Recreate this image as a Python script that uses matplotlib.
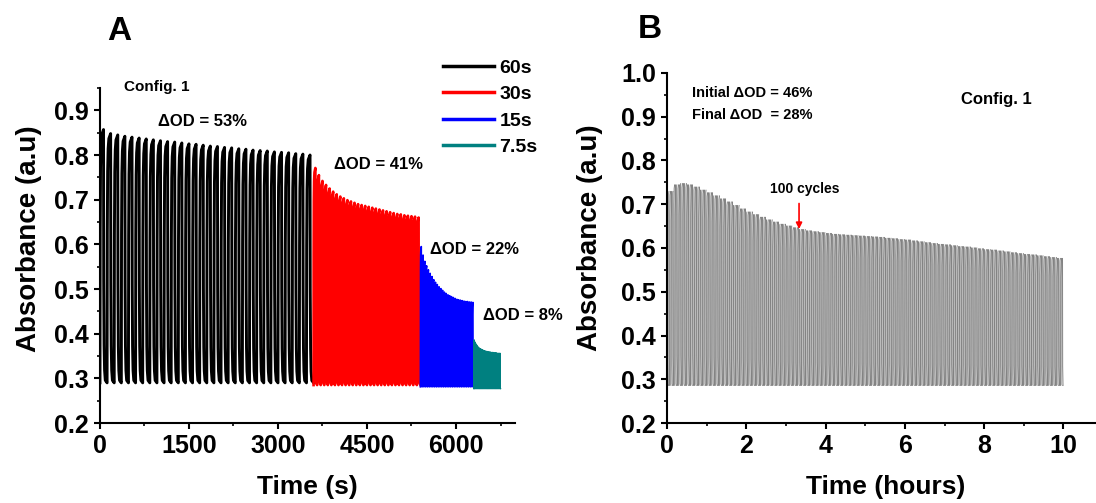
import numpy as np
import matplotlib.pyplot as plt
from matplotlib.ticker import MultipleLocator

plt.rcParams['font.family'] = ['Liberation Sans', 'DejaVu Sans']
plt.rcParams['font.weight'] = 'bold'

# ---- panel A: cycling at decreasing step times (peak absorbance per cycle) ----
step_times = [60, 30, 15, 7.5]          # s coloring, then s bleaching
step_labels = ['60s', '30s', '15s', '7.5s']
step_colors = ['black', 'red', 'blue', '#008080']
step_starts = [0, 3600, 5400, 6300]
bleached_a = [0.290, 0.285, 0.281, 0.277]

peaks_60 = [0.857, 0.848, 0.845, 0.842, 0.840, 0.838, 0.836, 0.834, 0.832, 0.830,
            0.829, 0.827, 0.825, 0.824, 0.822, 0.820, 0.819, 0.817, 0.816, 0.814,
            0.813, 0.811, 0.810, 0.809, 0.807, 0.806, 0.805, 0.803, 0.802, 0.800]
peaks_30 = [0.771, 0.755, 0.742, 0.733, 0.725, 0.718, 0.712, 0.707, 0.703, 0.699,
            0.696, 0.693, 0.690, 0.688, 0.686, 0.684, 0.682, 0.680, 0.678, 0.676,
            0.674, 0.672, 0.670, 0.668, 0.667, 0.665, 0.664, 0.663, 0.662, 0.660]
peaks_15 = [0.595, 0.576, 0.562, 0.552, 0.543, 0.535, 0.528, 0.521, 0.515, 0.510,
            0.505, 0.501, 0.497, 0.493, 0.490, 0.487, 0.485, 0.483, 0.481, 0.479,
            0.477, 0.476, 0.475, 0.474, 0.473, 0.472, 0.472, 0.471, 0.471, 0.470]
peaks_7p5 = [0.386, 0.381, 0.377, 0.374, 0.371, 0.369, 0.367, 0.366, 0.365, 0.364,
             0.363, 0.362, 0.361, 0.361, 0.360, 0.360, 0.359, 0.359, 0.359, 0.358,
             0.358, 0.358, 0.357, 0.357, 0.357, 0.357, 0.356, 0.356, 0.356, 0.356]
step_peaks = [peaks_60, peaks_30, peaks_15, peaks_7p5]
delta_od_a = ['53%', '41%', '22%', '8%']

# shape of one colour/bleach cycle: fraction of period -> fraction of peak height
cycle_phase = [0.0, 0.03, 0.08, 0.15, 0.25, 0.50, 0.53, 0.58, 0.65, 0.75, 1.0]
cycle_level = [0.0, 0.60, 0.85, 0.94, 0.98, 1.00, 0.40, 0.15, 0.05, 0.01, 0.0]

# ---- panel B: 10 h run at 60 s steps, one peak value per 5 cycles (10 min) ----
peaks_long = [0.730, 0.745, 0.748, 0.745, 0.740, 0.733, 0.727, 0.720, 0.713, 0.706,
              0.698, 0.690, 0.683, 0.677, 0.671, 0.665, 0.660, 0.655, 0.651, 0.647,
              0.643, 0.640, 0.638, 0.636, 0.634, 0.632, 0.631, 0.630, 0.629, 0.628,
              0.627, 0.626, 0.625, 0.623, 0.622, 0.620, 0.619, 0.617, 0.615, 0.613,
              0.611, 0.609, 0.608, 0.606, 0.604, 0.603, 0.601, 0.599, 0.597, 0.596,
              0.594, 0.592, 0.590, 0.588, 0.586, 0.585, 0.583, 0.581, 0.579, 0.577]
cycles_per_peak = 5
step_long = 60 / 3600.0   # hours
bleached_b = 0.285


def build_trace(t0, step, peaks, base):
    period = 2 * step
    t, y = [], []
    for i, p in enumerate(peaks):
        start = t0 + i * period
        for ph, lv in zip(cycle_phase, cycle_level):
            t.append(start + ph * period)
            y.append(base + lv * (p - base))
    return np.array(t), np.array(y)


def style_axes(ax):
    for side in ['top', 'right']:
        ax.spines[side].set_visible(False)
    for side in ['left', 'bottom']:
        ax.spines[side].set_linewidth(1.5)
    ax.tick_params(which='major', direction='out', length=4, width=1.5,
                   labelsize=18, pad=4)
    ax.tick_params(which='minor', direction='out', length=2.5, width=1.2)
    for lab in ax.get_xticklabels() + ax.get_yticklabels():
        lab.set_fontweight('bold')


fig = plt.figure(figsize=(10.96, 5.03), dpi=100)

# ---------------- A ----------------
ax_a = fig.add_axes([0.0912, 0.159, 0.379, 0.666])
line_widths = [2.1, 1.9, 1.2, 1.0]
for start, step, peaks, base, col, lab, lw in zip(step_starts, step_times, step_peaks,
                                                  bleached_a, step_colors, step_labels,
                                                  line_widths):
    t, y = build_trace(start, step, peaks, base)
    ax_a.plot(t, y, color=col, lw=lw, label=lab, solid_joinstyle='round')

ax_a.set_xlim(0, 7000)
ax_a.set_ylim(0.2, 0.95)
ax_a.xaxis.set_major_locator(MultipleLocator(1500))
ax_a.xaxis.set_minor_locator(MultipleLocator(750))
ax_a.yaxis.set_major_locator(MultipleLocator(0.1))
ax_a.yaxis.set_minor_locator(MultipleLocator(0.05))
ax_a.set_yticks(np.arange(0.2, 0.91, 0.1))
style_axes(ax_a)
ax_a.set_xlabel('Time (s)', fontsize=19, fontweight='bold')
ax_a.set_ylabel('Absorbance (a.u)', fontsize=20, fontweight='bold')
ax_a.xaxis.set_label_coords(0.5, -0.155)
ax_a.yaxis.set_label_coords(-0.14, 0.55)

leg = ax_a.legend(loc='upper left', bbox_to_anchor=(443 / 1096, 1 - 59 / 503),
                  bbox_transform=fig.transFigure, frameon=False, borderpad=0,
                  borderaxespad=0, handlelength=2.6, handletextpad=0.3,
                  labelspacing=0.46, prop={'size': 14, 'weight': 'bold'})
for h in leg.get_lines():
    h.set_linewidth(2.5)

ax_a.text(960, 0.953, 'Config. 1', fontsize=11, fontweight='bold',
          ha='center', va='center')
od_pos = [(1720, 0.875), (4690, 0.778), (6320, 0.588), (7130, 0.44)]
for (x, y), od in zip(od_pos, delta_od_a):
    ax_a.text(x, y, '\u0394OD = ' + od, fontsize=12, fontweight='bold',
              ha='center', va='center')
fig.text(119 / 1096, 1 - 31 / 503, 'A', fontsize=24, fontweight='bold',
         ha='center', va='center')

# ---------------- B ----------------
ax_b = fig.add_axes([0.6086, 0.159, 0.3914, 0.696])
cycle_peaks = np.repeat(peaks_long, cycles_per_peak)
t, y = build_trace(0, step_long, cycle_peaks, bleached_b)
ax_b.plot(t, y, color='0.3', lw=0.25)

ax_b.set_xlim(0, 10.82)
ax_b.set_ylim(0.2, 1.0)
ax_b.xaxis.set_major_locator(MultipleLocator(2))
ax_b.xaxis.set_minor_locator(MultipleLocator(1))
ax_b.yaxis.set_major_locator(MultipleLocator(0.1))
ax_b.yaxis.set_minor_locator(MultipleLocator(0.05))
style_axes(ax_b)
ax_b.set_xlabel('Time (hours)', fontsize=19, fontweight='bold')
ax_b.set_ylabel('Absorbance (a.u)', fontsize=20, fontweight='bold')
ax_b.xaxis.set_label_coords(0.51, -0.148)
ax_b.yaxis.set_label_coords(-0.15, 0.53)

ax_b.text(0.63, 0.955, 'Initial \u0394OD = 46%', fontsize=10.5, fontweight='bold',
          ha='left', va='center')
ax_b.text(0.63, 0.905, 'Final \u0394OD  = 28%', fontsize=10.5, fontweight='bold',
          ha='left', va='center')
ax_b.text(8.3, 0.94, 'Config. 1', fontsize=12, fontweight='bold',
          ha='center', va='center')
ax_b.text(3.48, 0.735, '100 cycles', fontsize=10, fontweight='bold',
          ha='center', va='center')
ax_b.annotate('', xy=(3.33, 0.637), xytext=(3.33, 0.708),
              arrowprops=dict(arrowstyle='-|>', color='red', lw=1.2,
                              mutation_scale=9))
fig.text(650 / 1096, 1 - 30 / 503, 'B', fontsize=24, fontweight='bold',
         ha='center', va='center')

fig.savefig('out.png', dpi=100)
